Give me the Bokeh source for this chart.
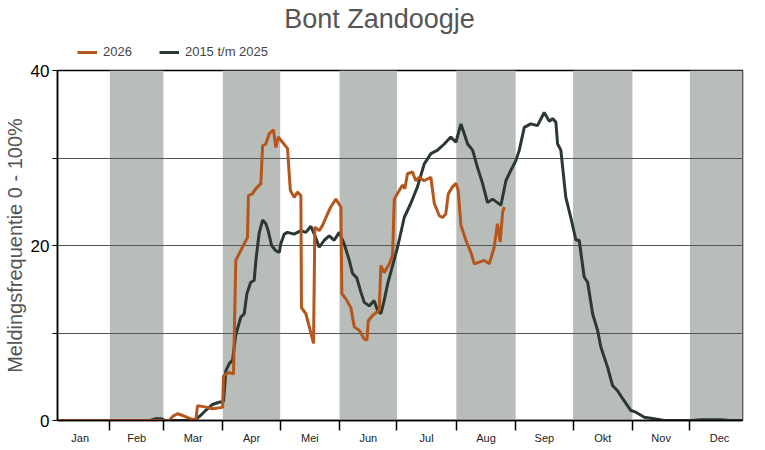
from bokeh.plotting import figure
from bokeh.models import Range1d, FixedTicker, Legend, LegendItem, Label
from bokeh.layouts import column
from bokeh.embed import file_html
from bokeh.resources import INLINE

# ---- data (day of year, value) ----
months = ["Jan", "Feb", "Mar", "Apr", "Mei", "Jun", "Jul", "Aug", "Sep", "Okt", "Nov", "Dec"]
month_start = [0, 31, 59, 90, 120, 151, 181, 212, 243, 273, 304, 334, 365]

hist_day = [0, 52, 55, 58, 60, 75.1, 78.4, 81, 84.6, 88.1, 90.4, 91.6, 93.4, 95.1, 96.8, 99.4, 101.2,
            102.6, 104.6, 106.4, 107.3, 109.0, 110.8, 112.5, 113.7, 115.5, 117.7, 119.5, 120.3,
            122.1, 123.8, 127.3, 130.8, 133.4, 136.0, 137.8, 140.4, 143.0, 145.6, 148.2, 150.8,
            153.4, 156.1, 157.8, 160.0, 162.1, 163.9, 166.5, 169.1, 170.8, 172.6, 174.3, 176.1,
            178.7, 181.3, 184.8, 188.2, 191.7, 195.2, 198.7, 202.2, 205.7, 209.1, 211.8, 214.4,
            216.1, 217.9, 220.5, 223.1, 225.7, 228.3, 230.9, 233.5, 235.3, 237.9, 240.5, 243.1,
            244.9, 247.5, 250.9, 254.4, 257.9, 260.6, 262.3, 264.0, 264.9, 266.6, 269.2, 271.8,
            274.5, 276.2, 278.8, 280.6, 283.2, 285.8, 287.5, 291.0, 293.6, 296.2, 298.9, 303.2,
            305.8, 310.2, 315.4, 320.6, 335, 340, 350, 355, 365]
hist_val = [0, 0, 0.2, 0.2, 0, 0, 0.57, 1.14, 1.83, 2.09, 2.17, 5.7, 6.5, 6.9, 9.8, 11.8, 12.2,
            14.5, 15.8, 16.0, 18.3, 21.4, 22.9, 22.5, 21.7, 20.0, 19.4, 19.2, 20.2,
            21.3, 21.5, 21.3, 21.7, 21.5, 22.2, 21.3, 19.8, 20.6, 21.1, 20.6, 21.5,
            20.2, 18.3, 16.8, 16.3, 14.7, 13.5, 13.1, 13.7, 12.6, 12.2, 13.7, 15.6,
            17.7, 19.8, 23.2, 24.8, 26.7, 29.3, 30.5, 30.9, 31.6, 32.4, 31.8, 33.9,
            32.8, 31.6, 30.9, 28.9, 27.1, 24.9, 25.3, 24.9, 24.6, 27.4, 28.6, 29.7,
            30.9, 33.5, 33.9, 33.7, 35.2, 34.2, 34.5, 34.1, 31.6, 30.9, 25.5, 23.2,
            20.6, 20.6, 16.4, 15.8, 12.2, 10.3, 8.4, 6.1, 4.0, 3.4, 2.5, 1.14,
            0.95, 0.38, 0.19, 0, 0, 0.1, 0.1, 0, 0]

cur_day = [0, 62.0, 64.0, 66.4, 69.0, 73.3, 75.9, 76.8, 82.0, 84.6, 89.9, 90.4, 93.4, 95.6, 96.8,
           101.2, 102.9, 103.4, 105.5, 107.3, 109.9, 110.8, 112.5, 114.3, 116.5, 117.7, 119.0,
           121.2, 123.8, 125.3, 127.3, 129.0, 130.8, 131.1, 133.4, 135.2, 137.4, 138.1, 140.4,
           142.1, 144.7, 146.4, 149.1, 151.7, 152.2, 154.3, 156.9, 158.7, 161.3, 163.9, 165.3,
           166.0, 168.2, 171.7, 172.6, 174.3, 177.0, 178.7, 179.6, 182.2, 183.9, 185.1, 186.5,
           189.1, 190.8, 192.6, 195.2, 198.7, 200.5, 203.1, 204.8, 206.5, 207.8, 210.0, 211.8,
           213.0, 214.4, 217.0, 219.6, 221.4, 224.0, 226.6, 229.2, 231.8, 233.5, 234.9, 236.2, 237.0]
cur_val = [0, 0, 0.5, 0.77, 0.57, 0.19, 0.05, 1.7, 1.5, 1.34, 1.5, 5.1, 5.5, 5.3, 18.3,
           20.2, 20.9, 25.7, 25.9, 26.5, 27.1, 31.4, 31.6, 32.8, 33.2, 31.2, 32.4,
           31.8, 31.1, 26.3, 25.5, 26.1, 25.7, 12.9, 12.2, 10.7, 8.8, 22.1, 21.7,
           22.3, 23.6, 24.4, 25.3, 24.4, 14.5, 13.9, 12.9, 10.7, 10.3, 9.3, 9.2,
           11.4, 12.0, 12.6, 17.7, 16.9, 17.9, 18.9, 25.3, 26.3, 26.9, 26.5, 28.2,
           28.4, 27.4, 27.8, 27.4, 27.8, 24.8, 23.4, 23.2, 23.6, 25.9, 26.7, 27.1,
           26.3, 22.3, 20.6, 19.2, 17.9, 18.1, 18.3, 17.9, 19.8, 22.5, 20.4, 23.8, 24.4]

series_names = ["2026", "2015 t/m 2025"]
series_colors = ["#b5561c", "#2b3833"]

y_ticks = [0, 10, 20, 30, 40]
y_labels = {0: "0", 10: "", 20: "20", 30: "", 40: "40"}

FONT = "Liberation Sans"

# ---------- header: title + legend (frame aligned with the chart's frame) ----------
head = figure(width=749, height=60, output_backend="svg", toolbar_location=None,
              x_range=Range1d(0, 1), y_range=Range1d(100, 101),
              x_axis_type=None, y_axis_type=None,
              min_border=0, min_border_left=0, min_border_right=0,
              min_border_top=0, min_border_bottom=0)
head.outline_line_color = None
head.xgrid.grid_line_color = None
head.ygrid.grid_line_color = None

head.add_layout(Label(x=322, y=42, x_units="screen", y_units="screen", text="Bont Zandoogje",
                      text_align="center", text_baseline="middle", text_font=FONT,
                      text_font_size="27px", text_color="#555555"))

# legend renderers (the series themselves; out of this header's visible range)
h_cur = head.line(cur_day, cur_val, line_color=series_colors[0], line_width=3)
h_hist = head.line(hist_day, hist_val, line_color=series_colors[1], line_width=3)
legend = Legend(items=[LegendItem(label=series_names[0], renderers=[h_cur]),
                       LegendItem(label=series_names[1], renderers=[h_hist])],
                orientation="horizontal", location=(20, 1),
                label_text_font=FONT, label_text_font_size="13px",
                glyph_width=20, glyph_height=14, label_height=14, label_standoff=6,
                spacing=27, padding=0, margin=0,
                border_line_color=None, background_fill_alpha=0)
head.add_layout(legend, "center")

# ---------- main chart ----------
p = figure(frame_width=685, frame_height=350, output_backend="svg", toolbar_location=None,
           x_range=Range1d(3.66, 361.5), y_range=Range1d(0, 40),
           min_border_left=55, min_border_right=9, min_border_top=10, min_border_bottom=10)

band_l = [month_start[i] for i in range(1, 12, 2)]
band_r = [month_start[i + 1] for i in range(1, 12, 2)]
p.quad(left=band_l, right=band_r, bottom=0, top=40, fill_color="#b9bdb9",
       line_color=None, level="image")

p.line(hist_day, hist_val, line_color=series_colors[1], line_width=3)
p.line(cur_day, cur_val, line_color=series_colors[0], line_width=3)

mid = [(month_start[i] + month_start[i + 1]) / 2 for i in range(12)]
p.xaxis.ticker = FixedTicker(ticks=mid, minor_ticks=month_start[1:12])
p.xaxis.major_label_overrides = {m: months[i] for i, m in enumerate(mid)}
p.xaxis.major_tick_line_color = None
p.xaxis.major_tick_in = 0
p.xaxis.major_tick_out = 0
p.xaxis.minor_tick_in = 0
p.xaxis.minor_tick_out = 10
p.xaxis.minor_tick_line_color = "black"
p.xaxis.minor_tick_line_width = 1.5
p.xaxis.major_label_text_font = FONT
p.xaxis.major_label_text_font_size = "11px"
p.xaxis.major_label_text_color = "#222222"
p.xaxis.major_label_standoff = 1
p.xaxis.axis_line_color = "black"
p.xaxis.axis_line_width = 1.5

p.yaxis.ticker = FixedTicker(ticks=y_ticks, minor_ticks=[])
p.yaxis.major_label_overrides = y_labels
p.yaxis.major_tick_in = 0
p.yaxis.major_tick_out = 5
p.yaxis.major_tick_line_color = "black"
p.yaxis.major_label_text_font = FONT
p.yaxis.major_label_text_font_size = "17px"
p.yaxis.major_label_text_color = "black"
p.yaxis.major_label_standoff = 3
p.yaxis.axis_label = "Meldingsfrequentie 0 - 100%"
p.yaxis.axis_label_text_font = FONT
p.yaxis.axis_label_text_font_size = "20px"
p.yaxis.axis_label_text_font_style = "normal"
p.yaxis.axis_label_text_color = "#555555"
p.yaxis.axis_label_standoff = 2
p.yaxis.axis_line_color = "black"
p.yaxis.axis_line_width = 1.5

p.xgrid.grid_line_color = None
p.ygrid.grid_line_color = "#555555"
p.ygrid.grid_line_width = 1

p.outline_line_color = "black"
p.outline_line_width = 1.5
p.background_fill_color = "white"

layout = column(head, p, spacing=0)
open("out.html", "w").write(file_html(layout, INLINE))
